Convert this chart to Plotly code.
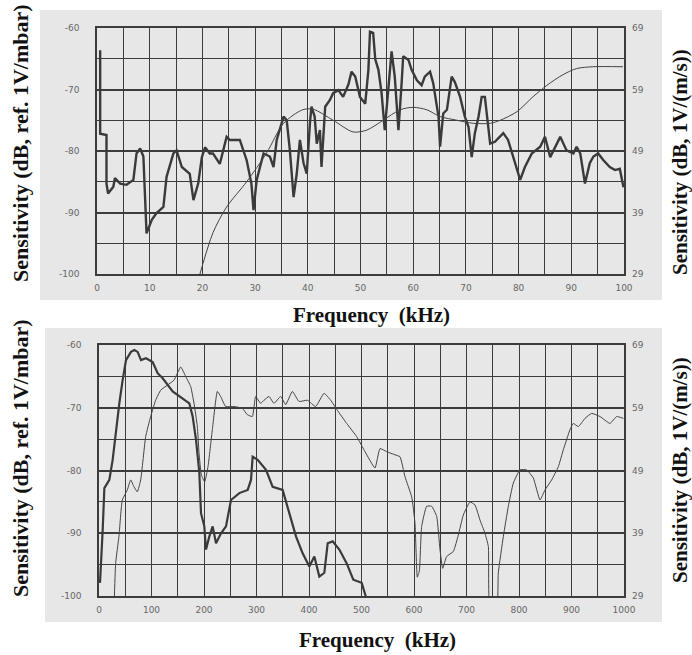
import plotly.graph_objects as go

W, H = 692, 655

# ---------------- Top panel data (0-100 kHz) ----------------
top_thick_x = [0.6, 0.6, 1.8, 1.8, 2.1, 3.1, 3.4, 4.4, 5.6, 6.9, 7.5, 8.2, 8.8, 9.1, 9.4, 10.4, 11.3, 12.6,
               13.2, 14.5, 15.1, 16.1, 17.6, 18.3, 19.2, 19.9, 20.5, 21.4, 22.0, 23.3, 24.6, 25.2, 27.1, 28.4,
               29.3, 29.7, 30.3, 31.6, 32.8, 33.5, 34.1, 35.4, 36.0, 36.6, 37.3, 37.9, 38.5, 39.2, 39.8, 40.4,
               40.7, 41.3, 41.7, 42.3, 42.6, 43.3, 44.2, 44.8, 45.8, 46.7, 47.7, 48.3, 49.0, 49.9, 50.9, 51.5,
               51.8, 52.4, 52.8, 53.4, 54.0, 54.6, 55.3, 55.9, 56.5, 57.2, 57.8, 58.1, 59.1, 59.7, 60.7, 61.6,
               62.2, 63.2, 63.8, 64.8, 65.1, 65.7, 66.4, 67.3, 67.9, 68.9, 69.8, 70.5, 71.1, 71.7, 72.4, 73.0,
               73.6, 74.6, 75.5, 77.1, 78.0, 79.0, 80.3, 81.2, 82.5, 84.1, 85.0, 86.0, 86.9, 87.9, 89.1, 90.4,
               91.0, 91.7, 92.6, 93.5, 94.2, 95.1, 96.1, 97.3, 98.3, 99.2, 99.9]
top_thick_y = [-63.6, -77.2, -77.4, -85.3, -86.9, -85.8, -84.4, -85.3, -85.5, -84.7, -80.4, -79.6, -80.9,
               -88.0, -93.4, -91.2, -90.1, -89.1, -84.2, -80.4, -79.9, -82.6, -83.7, -88.0, -85.3, -81.0,
               -79.4, -80.4, -80.4, -82.1, -77.7, -78.2, -78.2, -81.5, -85.3, -89.6, -84.7, -80.4, -80.9,
               -82.6, -78.2, -74.4, -75.0, -79.9, -87.5, -83.7, -78.2, -82.0, -83.7, -75.5, -72.8, -74.4,
               -78.8, -76.6, -82.6, -72.8, -71.7, -70.6, -70.1, -71.2, -69.2, -67.1, -67.9, -71.2, -72.3,
               -66.8, -60.6, -60.8, -65.1, -66.8, -70.6, -76.6, -70.1, -63.8, -67.9, -76.6, -69.0, -64.6,
               -65.2, -66.8, -68.5, -69.3, -67.9, -67.1, -69.0, -74.4, -79.3, -73.9, -73.3, -67.9, -68.8,
               -71.2, -74.4, -76.1, -81.0, -77.1, -74.4, -71.2, -71.2, -78.8, -78.5, -77.1, -78.2, -81.0,
               -84.7, -82.6, -80.4, -79.3, -77.7, -81.0, -79.3, -77.7, -79.9, -80.4, -79.3, -80.4, -85.3,
               -82.0, -80.9, -80.4, -81.5, -82.6, -83.1, -82.9, -85.9]

top_thin_x = [19.2, 22.0, 24.6, 28.4, 32.2, 35.4, 39.0, 41.0, 44.8, 48.6, 51.2, 54.3, 57.5, 60.0, 62.6,
              65.1, 68.3, 71.4, 74.6, 76.5, 79.7, 82.7, 85.4, 88.4, 91.0, 94.1, 99.8]
# values on the right-hand axis, dB re 1V/(m/s)
top_thin_y = [28.0, 35.7, 39.9, 44.0, 48.7, 53.5, 55.7, 55.8, 54.0, 52.1, 52.4, 54.0, 55.7, 56.1, 55.7,
              54.6, 54.0, 53.5, 53.5, 54.0, 55.4, 57.8, 59.7, 61.4, 62.4, 62.7, 62.7]

# ---------------- Bottom panel data (0-1000 kHz) ----------------
bot_thick_x = [1.9, 5.1, 7.0, 10.2, 19.7, 26.0, 32.4, 38.7, 45.0, 51.4, 60.9, 67.3, 73.6, 80.0, 89.5, 102.2,
               111.7, 121.3, 140.3, 159.4, 172.1, 178.4, 184.8, 191.1, 194.3, 200.6, 203.8, 210.2, 216.5,
               222.9, 232.4, 241.9, 251.4, 267.3, 283.2, 289.5, 292.7, 302.2, 318.1, 330.8, 349.8, 362.5,
               375.2, 387.9, 400.6, 410.2, 419.7, 429.2, 435.6, 445.1, 457.8, 471.8, 484.4, 500.3, 509.8]
bot_thick_y = [-97.9, -93.2, -89.5, -82.8, -81.5, -78.3, -73.5, -69.3, -65.6, -62.4, -61.1, -60.8, -61.1,
               -62.4, -62.1, -62.7, -64.5, -65.3, -67.4, -68.5, -69.3, -71.4, -75.1, -80.4, -86.8, -88.9,
               -92.6, -90.5, -88.9, -91.6, -90.0, -88.9, -84.7, -83.6, -83.1, -81.5, -77.8, -78.3, -79.9,
               -82.6, -83.1, -86.8, -90.5, -93.2, -95.3, -93.7, -96.9, -96.3, -91.6, -91.3, -92.6, -94.8,
               -97.4, -97.9, -100.5]

bot_thin_x = [28.6, 31.7, 38.0, 44.4, 53.9, 60.3, 66.7, 73.0, 79.4, 88.9, 98.4, 107.9, 117.5, 130.2, 142.9,
              155.6, 165.1, 174.6, 181.0, 187.3, 190.5, 195.0, 201.3, 207.6, 215.9, 225.4, 231.7, 241.3,
              257.1, 273.0, 282.5, 292.1, 298.4, 307.9, 314.3, 323.8, 333.3, 346.0, 355.6, 368.3, 381.0,
              396.8, 412.7, 428.6, 441.3, 454.0, 471.8, 490.8, 506.7, 525.7, 535.2, 548.0, 563.8, 573.3,
              582.9, 595.6, 601.9, 606.3, 610.2, 614.6, 624.1, 633.7, 643.2, 649.5, 654.6, 662.2, 674.9,
              684.4, 693.9, 706.7, 716.2, 725.7, 735.2, 741.6, 744.8, 757.5, 760.6, 770.2, 779.7, 789.2,
              801.9, 814.6, 827.3, 840.0, 849.5, 862.2, 874.9, 884.4, 897.1, 903.4, 913.0, 925.7, 938.4,
              954.3, 973.3, 986.0, 998.7]
# values on the right-hand axis, dB re 1V/(m/s)
bot_thin_y = [27.0, 34.2, 38.5, 44.3, 45.9, 47.5, 46.4, 45.6, 47.5, 54.4, 57.6, 60.2, 61.8, 62.6, 63.4,
              65.5, 64.0, 62.4, 59.7, 56.0, 51.8, 48.3, 47.2, 49.6, 55.5, 61.6, 60.8, 59.2, 59.2, 58.9,
              57.9, 57.6, 60.8, 59.7, 60.2, 60.8, 59.7, 60.8, 59.5, 61.6, 60.0, 60.2, 59.2, 61.3, 60.2,
              58.6, 56.5, 54.4, 52.0, 49.4, 52.5, 52.0, 51.5, 51.2, 48.0, 44.8, 40.6, 32.0, 33.0, 40.1,
              43.3, 43.3, 41.7, 36.4, 33.4, 35.3, 36.1, 38.7, 41.9, 44.0, 43.5, 41.1, 39.0, 36.9, 27.0,
              27.0, 32.7, 38.5, 43.3, 47.0, 49.1, 49.1, 47.8, 44.3, 45.9, 47.5, 49.6, 52.3, 55.5, 56.5,
              56.0, 57.3, 58.1, 57.6, 56.5, 57.6, 57.3]

left_ticks = [-100, -90, -80, -70, -60]
right_ticks = [29, 39, 49, 59, 69]
top_x_ticks = [0, 10, 20, 30, 40, 50, 60, 70, 80, 90, 100]
bot_x_ticks = [0, 100, 200, 300, 400, 500, 600, 700, 800, 900, 1000]

left_title = "Sensitivity (dB, ref. 1V/mbar)"
right_title = "Sensitivity (dB, 1V/(m/s))"
x_title = "Frequency  (kHz)"

# ---------------- layout geometry (pixels -> paper fractions) ----------------
def fx(px):
    return px / W

def fy(py):
    return 1 - py / H

top_dom_x = [fx(97), fx(624)]
bot_dom_x = [fx(99), fx(624)]
top_dom_y = [fy(274), fy(28)]
bot_dom_y = [fy(596), fy(345)]

grid_col = "#3c3c3c"
tick_font = dict(family="DejaVu Sans", size=9, color="#666666")
thick_col = "#3a3a3a"
thin_col = "#444444"

fig = go.Figure()
fig.add_trace(go.Scatter(x=top_thick_x, y=top_thick_y, xaxis="x", yaxis="y", mode="lines",
                         line=dict(color=thick_col, width=2.4), showlegend=False))
fig.add_trace(go.Scatter(x=top_thin_x, y=top_thin_y, xaxis="x", yaxis="y2", mode="lines",
                         line=dict(color=thin_col, width=1, shape="spline", smoothing=0.8), showlegend=False))
fig.add_trace(go.Scatter(x=bot_thick_x, y=bot_thick_y, xaxis="x2", yaxis="y3", mode="lines",
                         line=dict(color=thick_col, width=2.2), showlegend=False))
fig.add_trace(go.Scatter(x=bot_thin_x, y=bot_thin_y, xaxis="x2", yaxis="y4", mode="lines",
                         line=dict(color=thin_col, width=1, shape="spline", smoothing=0.4), showlegend=False))


def xaxis(dom, anchor, rng, ticks, minor):
    return dict(domain=dom, anchor=anchor, range=rng, tickvals=ticks, ticktext=[str(t) for t in ticks],
                showgrid=True, gridcolor=grid_col, gridwidth=1,
                minor=dict(dtick=minor, tick0=0, showgrid=True, gridcolor=grid_col, gridwidth=1),
                showline=True, mirror=True, linecolor=grid_col, linewidth=1.5,
                ticks="", tickfont=tick_font, ticklabelstandoff=4, zeroline=False, automargin=False,
                fixedrange=True)


def yaxis(dom, anchor):
    return dict(domain=dom, anchor=anchor, range=[-100, -60], tickvals=left_ticks,
                ticktext=[str(t) for t in left_ticks],
                showgrid=True, gridcolor=grid_col, gridwidth=1.6,
                minor=dict(dtick=5, tick0=-100, showgrid=True, gridcolor=grid_col, gridwidth=1.3),
                showline=True, mirror=True, linecolor=grid_col, linewidth=1.5,
                ticks="", tickfont=tick_font, ticklabelstandoff=14, zeroline=False, automargin=False,
                fixedrange=True)


def raxis(over, anchor):
    return dict(overlaying=over, anchor=anchor, side="right", range=[29, 69], tickvals=right_ticks,
                ticktext=[str(t) for t in right_ticks], showgrid=False, showline=False, ticks="",
                tickfont=tick_font, ticklabelstandoff=7, zeroline=False, automargin=False,
                fixedrange=True)


annotations = []
serif = "Liberation Serif"
title_font_l = dict(family=serif, size=22, color="#111111")
title_font_r = dict(family=serif, size=21, color="#111111")
title_font_x = dict(family=serif, size=21, color="#111111")


def ann(text, px, py, font, angle=0):
    return dict(text="<b>" + text + "</b>", x=fx(px), y=fy(py), xref="paper", yref="paper",
                xanchor="center", yanchor="middle", textangle=angle, showarrow=False, font=font)


annotations.append(ann(left_title, 20, 143, title_font_l, -90))
annotations.append(ann(left_title, 20, 458, title_font_l, -90))
annotations.append(ann(right_title, 680, 162, title_font_r, -90))
annotations.append(ann(right_title, 680, 470, title_font_r, -90))
annotations.append(ann(x_title, 371, 315, title_font_x))
annotations.append(ann(x_title, 377, 640, title_font_x))

# scanned-page grey backgrounds
shapes = [
    dict(type="rect", xref="paper", yref="paper", x0=fx(40), x1=fx(662), y0=fy(300), y1=fy(10),
         fillcolor="#e7e7e7", line=dict(width=0), layer="below"),
    dict(type="rect", xref="paper", yref="paper", x0=fx(45), x1=fx(662), y0=fy(622), y1=fy(328),
         fillcolor="#e7e7e7", line=dict(width=0), layer="below"),
]

fig.update_layout(
    width=W, height=H,
    margin=dict(l=0, r=0, t=0, b=0),
    paper_bgcolor="#ffffff",
    plot_bgcolor="#eeeeee",
    xaxis=xaxis(top_dom_x, "y", [0, 100], top_x_ticks, 5),
    yaxis=yaxis(top_dom_y, "x"),
    yaxis2=raxis("y", "x"),
    xaxis2=xaxis(bot_dom_x, "y3", [0, 1000], bot_x_ticks, 50),
    yaxis3=yaxis(bot_dom_y, "x2"),
    yaxis4=raxis("y3", "x2"),
    annotations=annotations,
    shapes=shapes,
    showlegend=False,
)

fig.write_html("out.html")
